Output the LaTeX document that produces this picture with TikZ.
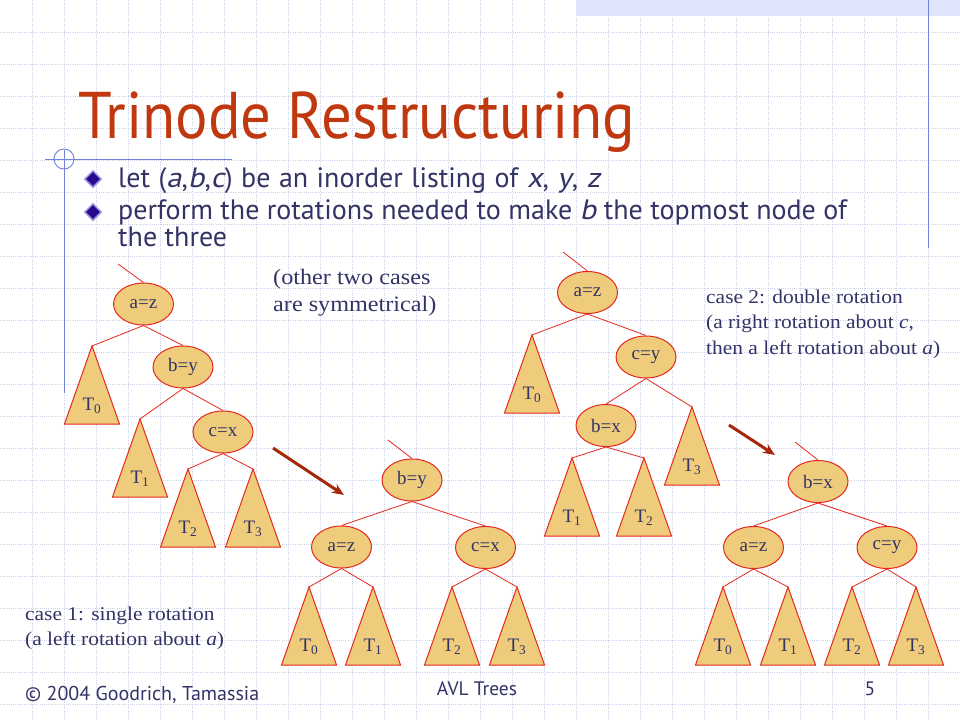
\documentclass[tikz,border=0pt]{standalone}
\usepackage{fontspec}
\setmainfont{Liberation Serif}
\newfontfamily\slidefont{PT Sans}
\newfontfamily\titlefont[FakeStretch=0.92]{PT Sans}
\newfontfamily\slantfont[FakeSlant=0.2,FakeStretch=1.1]{PT Sans}
\newfontfamily\notefont[FakeStretch=1.1]{Liberation Serif}
\newcommand*{\var}[1]{{\slantfont #1}}
\usetikzlibrary{shapes.geometric,arrows.meta}
\definecolor{titlered}{RGB}{192,56,16}
\definecolor{inkblue}{RGB}{51,51,102}
\definecolor{rulerblue}{RGB}{110,130,220}
\definecolor{gridblue}{RGB}{200,208,234}
\definecolor{bandblue}{RGB}{222,229,250}
\definecolor{nodefill}{RGB}{238,204,124}
\definecolor{edgered}{RGB}{228,40,30}
\definecolor{arrowred}{RGB}{165,40,10}
\definecolor{bulletnavy}{RGB}{40,10,140}
\definecolor{bulletrim}{RGB}{160,150,225}
\begin{document}
\begin{tikzpicture}[x=1pt,y=-1pt]
	\tikzstyle{gridline}=[gridblue,line width=0.7pt,dash pattern=on 1pt off 1.2pt]
	\tikzstyle{ruler}=[rulerblue,line width=0.9pt]
	\tikzstyle{tn}=[ellipse,draw=edgered,fill=nodefill,line width=1pt,minimum width=60pt,minimum height=42pt,inner sep=0pt,text=inkblue,font=\fontsize{19}{20}\selectfont]
	\tikzstyle{tri}=[draw=edgered,fill=nodefill,line width=1pt]
	\tikzstyle{tlbl}=[inner sep=0pt,text=inkblue,font=\fontsize{19}{20}\selectfont]
	\tikzstyle{edge}=[edgered,line width=0.8pt]
	\tikzstyle{rot}=[arrowred,line width=3pt,-{Stealth[length=12pt,width=10pt]}]
	\tikzstyle{note}=[inner sep=0pt,anchor=base west,text=inkblue]
	\tikzstyle{bullet}=[diamond,fill=bulletnavy,draw=bulletrim,line width=1.5pt,minimum width=17pt,minimum height=17pt,inner sep=0pt]
	\tikzstyle{sans}=[inner sep=0pt,text=inkblue,font=\slidefont\fontsize{28}{30}\selectfont]
	\newcommand*{\subtree}[3]{
		\coordinate (#1) at (#2);
		\draw[tri] (#1) -- ++(27.5,78) -- ++(-55,0) -- cycle;
		\path (#1) ++(0,60) node[tlbl] (#1l) {T\textsubscript{#3}};
	}
	\useasboundingbox (0,0) rectangle (960,720);
	\fill[white] (0,0) rectangle (960,720);
	\foreach \gx in {32,64,...,928} {\draw[gridline] (\gx,0) -- (\gx,720);}
	\foreach \gy in {32,64,...,704} {\draw[gridline] (0,\gy) -- (960,\gy);}
	\fill[bandblue] (576,0) rectangle (960,16);
	\draw[ruler] (928,0) -- (928,248);
	\draw[ruler] (64,150) -- (64,393);
	\draw[ruler] (45,159) -- (232,159);
	\draw[ruler] (64,159) circle[radius=10];

	\node[sans,anchor=base west,text=titlered,font=\titlefont\fontsize{66}{70}\selectfont] (title) at (78,138) {Trinode Restructuring};
	\node[bullet] (bul1) at (93,179) {};
	\node[bullet] (bul2) at (93,212) {};
	\node[sans,anchor=base west] (line1) at (118,187) {\spaceskip=8.5pt\relax let (\var{a},\var{b},\var{c}) be an inorder listing of \var{x}, \var{y}, \var{z}};
	\node[sans,anchor=base west] (line2) at (118,219) {perform the rotations needed to make \var{b} the topmost node of};
	\node[sans,anchor=base west] (line3) at (118,246) {the three};

	\node[note,font=\notefont\fontsize{22}{23}\selectfont] (sym1) at (273,284) {(other two cases};
	\node[note,font=\notefont\fontsize{22}{23}\selectfont] (sym2) at (273,311) {are symmetrical)};
	\node[note,font=\notefont\fontsize{19.5}{20}\selectfont] (case2a) at (706,303) {case 2: double rotation};
	\node[note,font=\notefont\fontsize{19.5}{20}\selectfont] (case2b) at (706,328) {(a right rotation about \textit{c},};
	\node[note,font=\notefont\fontsize{19.5}{20}\selectfont] (case2c) at (706,354) {then a left rotation about \textit{a})};
	\node[note,font=\notefont\fontsize{19.5}{20}\selectfont] (case1a) at (25,620) {case 1: single rotation};
	\node[note,font=\notefont\fontsize{19.5}{20}\selectfont] (case1b) at (25,645) {(a left rotation about \textit{a})};

	\node[tn] (az1) at (143.5,304) {a=z};
	\node[tn] (by1) at (183,367) {b=y};
	\node[tn] (cx1) at (223,432) {c=x};
	\subtree{lt0}{92,346}{0}
	\subtree{lt1}{140,419}{1}
	\subtree{lt2}{188,469}{2}
	\subtree{lt3}{253,469}{3}
	\coordinate (in1) at (118,264);
	\draw[edge] (in1) -- (az1.north);
	\draw[edge] (az1.south) -- (lt0) (az1.south) -- (by1.north);
	\draw[edge] (by1.south) -- (lt1) (by1.south) -- (cx1.north);
	\draw[edge] (cx1.south) -- (lt2) (cx1.south) -- (lt3);

	\node[tn] (by2) at (412,480) {b=y};
	\node[tn] (az2) at (341.5,547) {a=z};
	\node[tn] (cx2) at (485.5,547.5) {c=x};
	\subtree{mt0}{309,587}{0}
	\subtree{mt1}{373,587}{1}
	\subtree{mt2}{452,587}{2}
	\subtree{mt3}{517,587}{3}
	\coordinate (in2) at (388,440);
	\draw[edge] (in2) -- (by2.north);
	\draw[edge] (by2.south) -- (az2.north) (by2.south) -- (cx2.north);
	\draw[edge] (az2.south) -- (mt0) (az2.south) -- (mt1);
	\draw[edge] (cx2.south) -- (mt2) (cx2.south) -- (mt3);

	\node[tn] (az3) at (587.5,292.5) {a=z};
	\node[tn] (cy3) at (646,357) {c=y};
	\node[tn] (bx3) at (606,425.5) {b=x};
	\subtree{rt0}{532,335}{0}
	\subtree{rt1}{572,458}{1}
	\subtree{rt2}{644,458}{2}
	\subtree{rt3}{692,407}{3}
	\coordinate (in3) at (563,252);
	\draw[edge] (in3) -- (az3.north);
	\draw[edge] (az3.south) -- (rt0) (az3.south) -- (cy3.north);
	\draw[edge] (cy3.south) -- (bx3.north) (cy3.south) -- (rt3);
	\draw[edge] (bx3.south) -- (rt1) (bx3.south) -- (rt2);

	\node[tn] (bx4) at (818,481.5) {b=x};
	\node[tn] (az4) at (753.5,547.5) {a=z};
	\node[tn] (cy4) at (887,547.5) {c=y};
	\subtree{st0}{723,587}{0}
	\subtree{st1}{788,587}{1}
	\subtree{st2}{852,587}{2}
	\subtree{st3}{916,587}{3}
	\coordinate (in4) at (795,442);
	\draw[edge] (in4) -- (bx4.north);
	\draw[edge] (bx4.south) -- (az4.north) (bx4.south) -- (cy4.north);
	\draw[edge] (az4.south) -- (st0) (az4.south) -- (st1);
	\draw[edge] (cy4.south) -- (st2) (cy4.south) -- (st3);

	\coordinate (ar1s) at (273,448);
	\coordinate (ar1e) at (344,495);
	\coordinate (ar2s) at (729,425);
	\coordinate (ar2e) at (775,455);
	\draw[rot] (ar1s) -- (ar1e);
	\draw[rot] (ar2s) -- (ar2e);

	\node[sans,anchor=base west,font=\slidefont\fontsize{20}{20}\selectfont] (copy) at (25,700) {\textcopyright{} 2004 Goodrich, Tamassia};
	\node[sans,anchor=base,font=\slidefont\fontsize{19.5}{20}\selectfont] (foot) at (477,695) {AVL Trees};
	\node[sans,anchor=base,font=\slidefont\fontsize{19.5}{20}\selectfont] (page) at (870,695) {5};
\end{tikzpicture}
\end{document}
